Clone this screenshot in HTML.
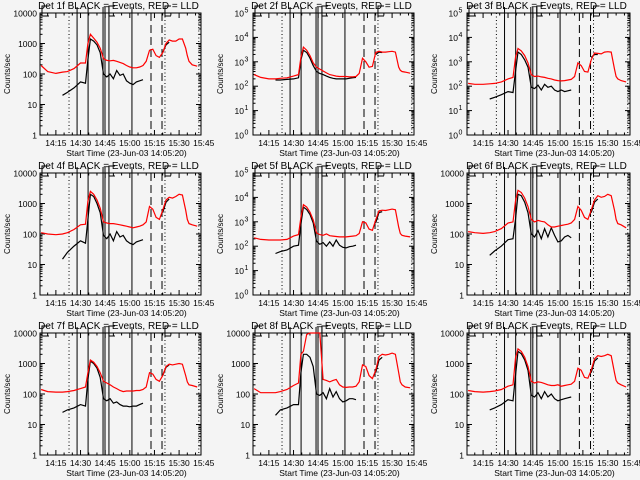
<!DOCTYPE html>
<html><head><meta charset="utf-8"><style>
html,body{margin:0;padding:0;background:#f4f4f4}
svg{display:block}
text{font-family:"Liberation Sans",sans-serif;fill:#000}
</style></head><body>
<svg id="chart" width="640" height="480" viewBox="0 0 640 480" xmlns="http://www.w3.org/2000/svg">
<rect x="0" y="0" width="640" height="480" fill="#f4f4f4"/>
</svg>
<script>
// time samples in minutes after 14:00
const times = [6,10,15,19,22,26,30,33,34.5,36,38,40,42,44,46,48,50,52,54,56,58,60,62,64,66,68,70,72,74,76,78,80,82,84,86,88,90,92,94,95,96,98,101];
const xTickLabels = ["14:15","14:30","14:45","15:00","15:15","15:30","15:45"];
const xTickTimes = [15,30,45,60,75,90,105];
const solidLines = [27.9,34.6,43.7,44.9,47.3,61.3];
const dashedLines = [72.9,79.6];
const dottedLines = [23,81.4,102];
const detNames = ["1f","2f","3f","4f","5f","6f","7f","8f","9f"];
const decades = [4,5,5,4,5,4,4,4,4];
const expLabels = [false,true,true,false,true,false,false,false,false];
const N = null;
const red1 = [190,120,105,115,120,150,230,230,1000,2000,1500,1100,700,320,280,270,280,260,240,220,190,170,160,160,170,190,260,600,650,400,350,500,1000,1300,1200,1200,1400,1400,700,400,260,200,180];
const blk1 = [N,N,N,20,25,35,55,50,300,1400,1200,900,500,100,80,100,70,130,90,100,60,50,45,55,60,65,N,N,N,N,N,500,900,1100,N,N,N,N,N,N,N,N,N];
const red2 = [300,230,200,200,210,220,260,300,1500,4000,3000,1800,900,600,500,420,350,300,280,260,250,250,250,240,240,250,330,1400,1000,600,650,2400,2700,2500,2500,2600,2700,2500,600,450,400,380,340];
const blk2 = [N,N,N,180,180,190,200,220,1200,3000,2400,1400,700,400,330,300,260,230,210,200,200,200,200,210,220,230,N,N,N,N,N,2000,2500,2400,N,N,N,N,N,N,N,N,N];
const red3 = [130,120,120,125,130,150,200,230,1500,3500,2800,1800,900,300,250,260,240,230,210,200,180,170,165,170,180,190,250,900,700,400,380,1200,2300,2200,2100,2500,2600,2500,500,250,200,170,150];
const blk3 = [N,N,N,30,35,45,60,55,400,2500,2000,1200,600,90,80,110,70,120,90,100,70,60,70,60,65,70,N,N,N,N,N,1500,2000,2000,N,N,N,N,N,N,N,N,N];
const red4 = [110,100,95,100,110,140,200,210,1200,2500,2000,1300,700,250,230,220,220,210,200,190,180,170,160,170,180,200,250,800,650,350,300,600,1300,1600,1500,1700,2000,1900,600,300,220,200,180];
const blk4 = [N,N,N,15,25,40,60,50,300,2000,1700,1000,500,90,70,100,60,120,80,90,60,50,45,55,60,65,N,N,N,N,N,500,1100,1400,N,N,N,N,N,N,N,N,N];
const red5 = [220,190,180,180,180,190,260,300,1500,5000,4000,2500,1200,350,300,280,320,270,260,250,240,240,240,250,260,270,330,1000,900,500,450,1200,2800,3000,2900,3100,3300,3100,600,330,280,260,240];
const blk5 = [N,N,N,50,60,70,100,110,800,4000,3200,2000,900,160,120,140,100,150,100,180,110,90,85,95,100,110,N,N,N,N,N,900,2400,2600,N,N,N,N,N,N,N,N,N];
const red6 = [120,110,105,110,120,150,230,250,1200,2700,2300,1500,800,300,250,280,260,250,200,170,170,180,190,200,210,230,300,800,600,350,300,600,1300,1800,1600,1700,2000,1800,600,300,220,200,160];
const blk6 = [N,N,N,20,28,40,65,70,300,2000,1800,1100,500,100,80,130,70,150,80,160,90,55,60,80,90,75,N,N,N,N,N,500,1100,1400,N,N,N,N,N,N,N,N,N];
const red7 = [140,120,115,115,120,130,150,170,500,1300,1100,800,500,260,230,200,170,150,130,120,125,125,125,130,130,140,170,500,450,300,260,400,800,950,900,950,1000,950,400,250,200,190,170];
const blk7 = [N,N,N,25,30,35,45,40,300,1200,1000,700,350,70,60,70,50,55,45,40,40,38,40,40,45,50,N,N,N,N,N,400,750,900,N,N,N,N,N,N,N,N,N];
const red8 = [150,110,110,110,120,140,190,230,2000,2500,9000,10000,10000,10000,10000,300,280,250,280,300,200,170,165,170,170,180,250,900,800,400,320,600,1700,2000,1900,2000,2200,2000,500,250,200,170,160];
const blk8 = [N,N,N,20,30,35,45,45,500,2000,2000,1600,800,100,90,110,70,150,80,120,70,55,60,70,70,65,N,N,N,N,N,500,1300,1600,N,N,N,N,N,N,N,N,N];
const red9 = [130,120,115,120,125,140,180,200,1500,3000,2500,1600,800,260,230,250,240,220,200,190,190,200,180,190,200,210,260,700,600,350,330,600,1400,1800,1700,1800,2000,1800,500,280,230,200,170];
const blk9 = [N,N,N,30,35,45,65,60,400,2500,2100,1300,600,90,80,110,70,120,80,100,70,60,65,70,75,80,N,N,N,N,N,500,1200,1500,N,N,N,N,N,N,N,N,N];
const redSeries = [red1,red2,red3,red4,red5,red6,red7,red8,red9];
const blackSeries = [blk1,blk2,blk3,blk4,blk5,blk6,blk7,blk8,blk9];

const svg = document.getElementById('chart');
const NS = "http://www.w3.org/2000/svg";
function mk(tag, attrs, parent){
  const e = document.createElementNS(NS, tag);
  for (const k in attrs) e.setAttribute(k, attrs[k]);
  parent.appendChild(e); return e;
}
const colLeft = [40,253,467], colW = [161,161,163], rowTop = [13,173,333], H = 122;
const T0 = 5.333, T1 = 103.333;

for (let p = 0; p < 9; p++) {
  const c = p % 3, r = Math.floor(p / 3);
  const L = colLeft[c], W = colW[c], TP = rowTop[r], B = TP + H;
  const nd = decades[p];
  const xs = t => L + (t - T0) / (T1 - T0) * W;
  const ys = v => B - Math.log10(Math.max(v, 1)) / nd * H;
  const g = mk('g', {}, svg);
  
  

  const title = mk('text', {x: L + W/2 - 2, y: TP - 4, 'font-size': 10, 'text-anchor': 'middle'}, g);
  title.textContent = 'Det ' + detNames[p] + ' BLACK = Events, RED = LLD';
  
  

  const box = mk('rect', {x: L, y: TP, width: W, height: H, fill: 'none', stroke: '#000', 'stroke-width': 1}, g);
  
  

  for (let d = 0; d <= nd; d++) {
    const y = B - d / nd * H;
    mk('line', {x1: L, x2: L + 5, y1: y, y2: y, stroke: '#000'}, g);
    mk('line', {x1: L + W - 5, x2: L + W, y1: y, y2: y, stroke: '#000'}, g);
    if (d < nd) for (let m = 2; m < 10; m++) {
      const ym = B - (d + Math.log10(m)) / nd * H;
      mk('line', {x1: L, x2: L + 2.5, y1: ym, y2: ym, stroke: '#000'}, g);
      mk('line', {x1: L + W - 2.5, x2: L + W, y1: ym, y2: ym, stroke: '#000'}, g);
    }
    const lab = mk('text', {x: L - 3, y: y + 3.5, 'font-size': 8.5, 'text-anchor': 'end'}, g);
    
    
    if (expLabels[p]) {
      lab.setAttribute('x', L - 9);
      lab.textContent = '10';
      const sup = mk('text', {x: L - 8.5, y: y - 0.5, 'font-size': 7}, g);
      sup.textContent = String(d);
    } else {
      lab.textContent = String(Math.pow(10, d));
    }
  }
  const yt = mk('text', {x: 0, y: 0, 'font-size': 8, 'text-anchor': 'middle', transform: 'translate(' + (L - 30) + ',' + (TP + H/2) + ') rotate(-90)'}, g);
  yt.textContent = 'Counts/sec';
  
  

  for (let t = 10; t <= 100; t += 5) {
    const x = xs(t);
    const major = xTickTimes.indexOf(t) >= 0;
    const len = major ? 5 : 2.5;
    mk('line', {x1: x, x2: x, y1: B, y2: B - len, stroke: '#000'}, g);
    mk('line', {x1: x, x2: x, y1: TP, y2: TP + len, stroke: '#000'}, g);
  }
  xTickLabels.forEach((s, i) => {
    const tl = mk('text', {x: xs(xTickTimes[i]), y: B + 11, 'font-size': 8.5, 'text-anchor': 'middle'}, g);
    tl.textContent = s;
    
    
  });
  const xt = mk('text', {x: L + W/2 + 6, y: B + 21, 'font-size': 8.5, 'text-anchor': 'middle'}, g);
  xt.textContent = 'Start Time (23-Jun-03 14:05:20)';
  
  

  solidLines.forEach(t => { const l = mk('line', {x1: xs(t), x2: xs(t), y1: TP - 6, y2: B, stroke: '#000', 'stroke-width': 1}, g);
      });
  dashedLines.forEach(t => { const l = mk('line', {x1: xs(t), x2: xs(t), y1: TP, y2: B, stroke: '#000', 'stroke-dasharray': '8,4'}, g);
      });
  dottedLines.forEach(t => { const l = mk('line', {x1: xs(t), x2: xs(t), y1: TP, y2: B, stroke: '#000', 'stroke-dasharray': '1,2.5'}, g);
      });
  [[L + 2, 7], [xs(47.3), 6], [xs(81.4), 6]].forEach(([x, w]) => {
    mk('path', {d: 'M' + (x + w) + ' ' + (TP - 7) + 'H' + x + 'V' + (TP + 3) + 'H' + (x + w), fill: 'none', stroke: '#000'}, g);
  });

  function drawSeries(vals, color, name) {
    let d = '', pen = false;
    vals.forEach((v, i) => {
      if (v === null) { pen = false; return; }
      d += (pen ? 'L' : 'M') + xs(times[i]).toFixed(1) + ' ' + ys(v).toFixed(1);
      pen = true;
    });
    const pth = mk('path', {d: d, fill: 'none', stroke: color, 'stroke-width': 1.2}, g);
    
    
  }
  drawSeries(blackSeries[p], '#000', 'events-series');
  drawSeries(redSeries[p], '#ff0000', 'lld-series');
}
</script>
</body></html>
